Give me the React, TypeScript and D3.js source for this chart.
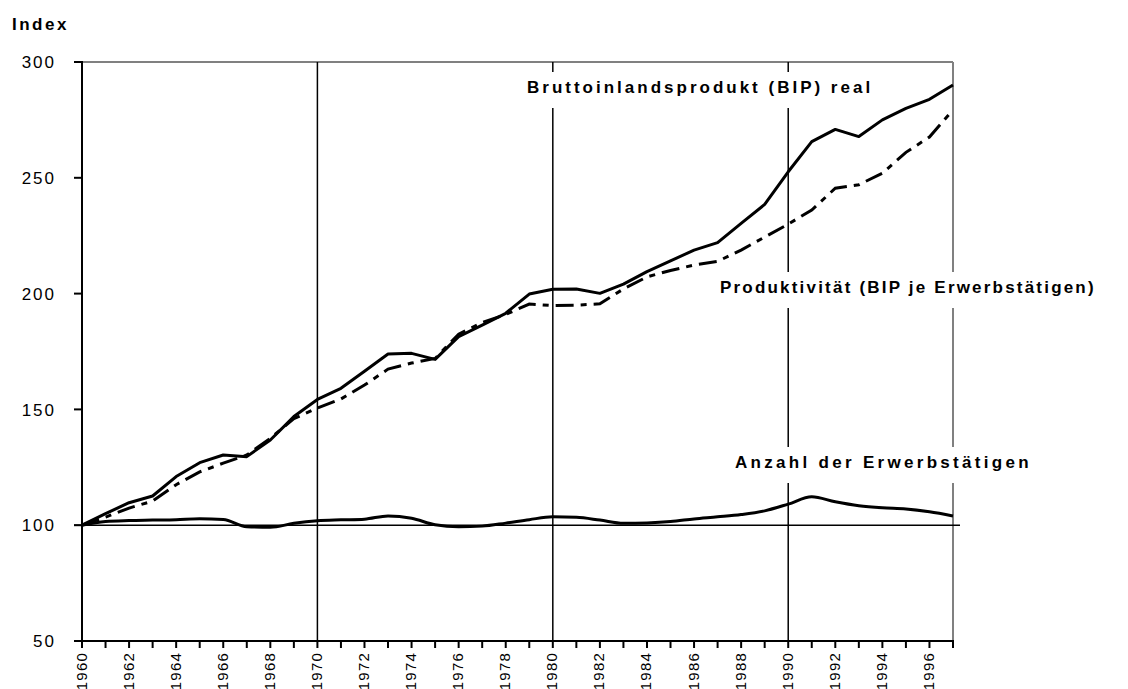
import React from 'react';
import * as d3 from 'd3';

const years = d3.range(1960, 1998);

// BIP real (1960 = 100)
const bip = [100, 105, 109.7, 112.6, 121, 127, 130.3, 129.6, 136.8, 146.9,
  154.3, 159.1, 166.5, 173.9, 174.2, 171.6, 181.4, 186.4, 191.5, 199.8,
  201.9, 202, 200.1, 204.1, 209.5, 214.1, 218.8, 222, 230.3, 238.5,
  252.6, 265.6, 270.9, 267.8, 275, 280, 283.9, 290.1];

// Produktivität (BIP je Erwerbstätigen)
const prod = [100, 103.5, 107.4, 110.4, 117.5, 123, 126.8, 130.3, 137.5, 146,
  150.6, 154.5, 160.5, 167.4, 170, 172, 182.5, 187.5, 191, 195.5,
  194.8, 195, 195.6, 202, 207.2, 210, 212.3, 213.9, 218.8, 224.4,
  230, 236.1, 245.5, 247, 252, 261, 267.6, 279.3];

// Anzahl der Erwerbstätigen
const emp = [100, 101.6, 102, 102.2, 102.4, 102.8, 102.5, 99.3, 99.1, 100.8,
  101.9, 102.3, 102.6, 104, 103, 100.2, 99.3, 99.6, 100.9, 102.4,
  103.6, 103.4, 102.2, 100.8, 101, 101.6, 102.7, 103.6, 104.6, 106.2,
  109.1, 112.3, 110.1, 108.4, 107.5, 107, 105.8, 104];

const yTicks = [50, 100, 150, 200, 250, 300];
const xLabelYears = years.filter(yr => yr % 2 === 0 && yr < 1997);
const gridYears = [1970, 1980, 1990];

const labels = [
  { text: 'Bruttoinlandsprodukt (BIP) real', x: 527, y: 93, spacing: 3, width: 347 },
  { text: 'Produktivität (BIP je Erwerbstätigen)', x: 720, y: 293, spacing: 2.2, width: 374 },
  { text: 'Anzahl der Erwerbstätigen', x: 735, y: 468, spacing: 3.3, width: 295 },
];

const font = '"Liberation Sans", Arial, sans-serif';

export default function App() {
  const x = d3.scaleLinear().domain([1960, 1997]).range([82, 953]);
  const y = d3.scaleLinear().domain([50, 300]).range([641, 62]);

  const straight = d3.line<number>().x((_, i) => x(years[i])).y(d => y(d));
  const smooth = d3.line<number>().x((_, i) => x(years[i])).y(d => y(d)).curve(d3.curveMonotoneX);

  return (
    <svg width={1128} height={689} style={{ position: 'absolute', left: 0, top: 0, background: '#fff' }}>
      {/* plot frame */}
      <line x1={x(1960)} x2={x(1997)} y1={y(300)} y2={y(300)} stroke="#808080" strokeWidth={2} />
      <line x1={x(1997)} x2={x(1997)} y1={y(300)} y2={y(50)} stroke="#808080" strokeWidth={2} />
      {gridYears.map(yr => (
        <line key={yr} x1={x(yr)} x2={x(yr)} y1={y(300)} y2={y(50)} stroke="#000" strokeWidth={1.5} />
      ))}
      <line x1={74} x2={x(1997) + 7} y1={y(100)} y2={y(100)} stroke="#000" strokeWidth={1.5} />

      {/* label backgrounds */}
      {labels.map(l => (
        <rect key={l.text} x={l.x - 6} y={l.y - 21} height={36} width={l.width + 12} fill="#fff" />
      ))}

      {/* y axis */}
      <line x1={x(1960)} x2={x(1960)} y1={y(300) - 1} y2={y(50) + 1} stroke="#000" strokeWidth={2} />
      {yTicks.map(t => (
        <g key={t}>
          <line x1={74} x2={x(1960)} y1={y(t)} y2={y(t)} stroke="#000" strokeWidth={2} />
          <text x={56} y={y(t)} dy="0.36em" textAnchor="end" fontFamily={font} fontSize={17}
            letterSpacing={2}>{t}</text>
        </g>
      ))}

      {/* x axis */}
      <line x1={x(1960)} x2={x(1997) + 1} y1={y(50)} y2={y(50)} stroke="#000" strokeWidth={2} />
      {years.map(yr => (
        <line key={yr} x1={x(yr)} x2={x(yr)} y1={y(50)} y2={y(50) + 7} stroke="#000" strokeWidth={2} />
      ))}
      {xLabelYears.map(yr => (
        <text key={yr} transform={`translate(${x(yr) + 4.5},${652}) rotate(-90)`} textAnchor="end"
          fontFamily={font} fontSize={15} letterSpacing={1.2}>{yr}</text>
      ))}

      {/* series */}
      <path d={straight(prod) ?? ''} fill="none" stroke="#000" strokeWidth={3}
        strokeDasharray="18 7 6 7" />
      <path d={straight(bip) ?? ''} fill="none" stroke="#000" strokeWidth={3} strokeLinejoin="round" />
      <path d={smooth(emp) ?? ''} fill="none" stroke="#000" strokeWidth={3} />

      {/* texts */}
      <text x={12} y={30} fontFamily={font} fontSize={17} fontWeight="bold" letterSpacing={2.5}>Index</text>
      {labels.map(l => (
        <text key={l.text} x={l.x} y={l.y} fontFamily={font} fontSize={17} fontWeight="bold"
          letterSpacing={l.spacing}>{l.text}</text>
      ))}
    </svg>
  );
}
